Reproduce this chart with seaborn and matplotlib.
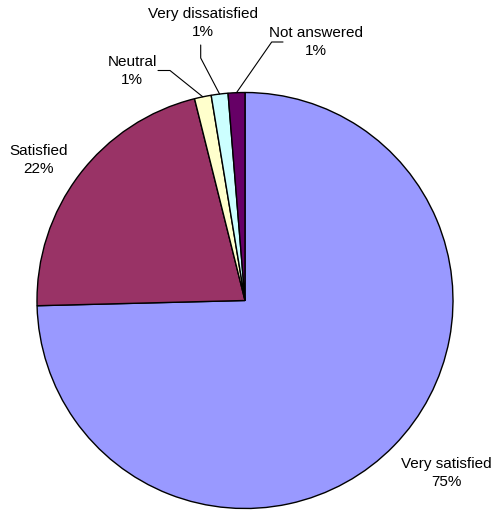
import numpy as np
import matplotlib
matplotlib.use("Agg")
import matplotlib.pyplot as plt
import seaborn as sns

# survey answers, clockwise from 12 o'clock
categories = ["Very satisfied", "Satisfied", "Neutral", "Very dissatisfied", "Not answered"]
shares = [74.6, 21.5, 1.3, 1.3, 1.3]
colors = ["#9999FF", "#993366", "#FFFFCC", "#CCFFFF", "#660066"]

sns.set_theme(style="white")
plt.rcParams["font.family"] = ["Liberation Sans", "DejaVu Sans"]

# label centres and leader elbows, in pixel units (origin bottom left)
label_pos = {
    "Very satisfied": (446, 40),
    "Satisfied": (39, 353),
    "Neutral": (132, 442),
    "Very dissatisfied": (203, 490),
    "Not answered": (316, 471),
}
leaders = {
    "Neutral": [(158, 442.5), (170, 442.5)],
    "Very dissatisfied": [(200.7, 468), (200.7, 455)],
    "Not answered": [(283, 471), (271.7, 471)],
}

W, H = 495, 513
fig = plt.figure(figsize=(W / 100, H / 100), dpi=100)
ax = fig.add_axes([0, 0, 1, 1])

cx, cy, r = 245, 212.5, 208
wedges, _ = ax.pie(shares, colors=colors, startangle=90, counterclock=False,
                   center=(cx, cy), radius=r,
                   wedgeprops=dict(edgecolor="black", linewidth=1))

for w, name, pct in zip(wedges, categories, shares):
    x, y = label_pos[name]
    ax.text(x, y, f"{name}\n{pct:.0f}%", ha="center", va="center",
            fontsize=11, linespacing=1.45, color="black")
    if name in leaders:
        mid = np.deg2rad((w.theta1 + w.theta2) / 2)
        ax_pt = (cx + r * np.cos(mid), cy + r * np.sin(mid))
        pts = leaders[name] + [ax_pt]
        ax.plot([p[0] for p in pts], [p[1] for p in pts], color="black", lw=0.8)

ax.set_xlim(0, W)
ax.set_ylim(0, H)
ax.set_aspect("equal")
ax.axis("off")

fig.savefig("out.png", dpi=100, facecolor="white")
